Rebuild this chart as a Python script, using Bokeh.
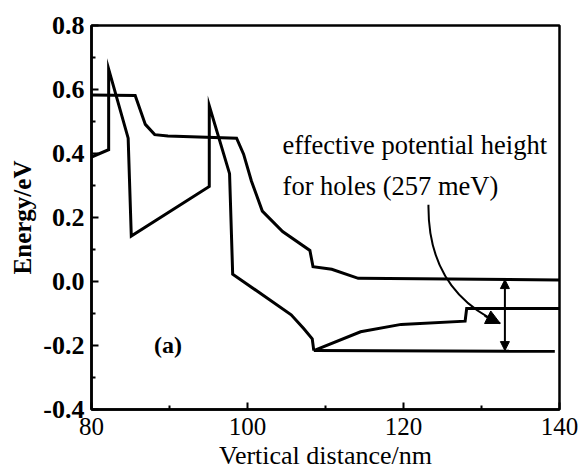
from bokeh.plotting import figure
from bokeh.models import (Range1d, Arrow, NormalHead, Label, FixedTicker,
                          PrintfTickFormatter)
from bokeh.embed import file_html
from bokeh.resources import INLINE

# Band-edge profiles along the vertical direction (distance in nm, energy in eV)
dist_a = [80.0, 82.2, 82.2, 84.7, 85.1, 95.1, 95.1, 97.7, 98.1, 105.6, 107.2, 108.3, 108.5]
energy_a = [0.389, 0.412, 0.664, 0.448, 0.142, 0.297, 0.549, 0.337, 0.023, -0.104, -0.147, -0.179, -0.216]

dist_b = [80.0, 85.6, 86.9, 88.1, 89.8, 98.6, 99.5, 100.5, 101.9, 104.5, 108.0, 108.4, 110.8, 114.2, 140.0]
energy_b = [0.583, 0.581, 0.491, 0.459, 0.455, 0.448, 0.398, 0.314, 0.220, 0.156, 0.097, 0.046, 0.038, 0.010, 0.005]

dist_c = [108.5, 114.5, 119.7, 127.9, 128.1, 140.0]
energy_c = [-0.216, -0.157, -0.134, -0.124, -0.084, -0.084]

dist_d = [108.5, 139.4]
energy_d = [-0.216, -0.218]

# Barrier marker (upper and lower level at the marker position)
barrier_x = 133.0
barrier_top = 0.006
barrier_bottom = -0.216

# Curved pointer from the annotation to the barrier
pointer_start = (123.2, 0.24)
pointer_ctrl0 = (123.1, 0.036)
pointer_ctrl1 = (127.2, -0.073)
pointer_tip = (132.4, -0.131)

x_ticks = [80, 100, 120, 140]
x_minor = [90, 110, 130]
y_ticks = [-0.4, -0.2, 0.0, 0.2, 0.4, 0.6, 0.8]
y_minor = [-0.3, -0.1, 0.1, 0.3, 0.5, 0.7]

SERIF = "Liberation Serif"

p = figure(width=584, height=474, output_backend="svg", toolbar_location=None,
           x_range=Range1d(80, 140), y_range=Range1d(-0.4, 0.8),
           min_border_left=91, min_border_right=25, min_border_top=25,
           min_border_bottom=65)

p.xgrid.visible = False
p.ygrid.visible = False
p.background_fill_color = "white"
p.border_fill_color = "white"
p.outline_line_color = "black"
p.outline_line_width = 2.5

for ax in (p.xaxis[0], p.yaxis[0]):
    ax.axis_line_width = 2.5
    ax.major_tick_in = 7
    ax.major_tick_out = 0
    ax.minor_tick_in = 4
    ax.minor_tick_out = 0
    ax.major_tick_line_width = 2
    ax.minor_tick_line_width = 2
    ax.major_label_text_font = SERIF
    ax.axis_label_text_font = SERIF
    ax.major_label_text_color = "black"
    ax.axis_label_text_color = "black"

p.xaxis.ticker = FixedTicker(ticks=x_ticks, minor_ticks=x_minor)
p.yaxis.ticker = FixedTicker(ticks=y_ticks, minor_ticks=y_minor)
p.yaxis.formatter = PrintfTickFormatter(format="%.1f")

p.xaxis.axis_label = "Vertical distance/nm"
p.xaxis.major_label_text_font_size = "25px"
p.xaxis.axis_label_text_font_size = "26px"
p.xaxis.axis_label_text_font_style = "normal"
p.xaxis.major_label_standoff = 8
p.xaxis.axis_label_standoff = 3

p.yaxis.axis_label = "Energy/eV"
p.yaxis.major_label_text_font_size = "26px"
p.yaxis.major_label_text_font_style = "bold"
p.yaxis.axis_label_text_font_size = "25px"
p.yaxis.axis_label_text_font_style = "bold"
p.yaxis.major_label_standoff = 7
p.yaxis.axis_label_standoff = 4

lw = 3
p.line(dist_a, energy_a, line_color="black", line_width=lw, line_join="miter")
p.line(dist_b, energy_b, line_color="black", line_width=lw, line_join="miter")
p.line(dist_c, energy_c, line_color="black", line_width=lw, line_join="miter")
p.line(dist_d, energy_d, line_color="black", line_width=lw, line_join="miter")

# Double-headed barrier-height marker
p.add_layout(Arrow(
    start=NormalHead(size=9, fill_color="black", line_color="black", line_width=1),
    end=NormalHead(size=9, fill_color="black", line_color="black", line_width=1),
    x_start=barrier_x, y_start=barrier_bottom, x_end=barrier_x, y_end=barrier_top,
    line_color="black", line_width=2))

# Curved pointer with a head at its tip
p.bezier(x0=[pointer_start[0]], y0=[pointer_start[1]],
         x1=[pointer_tip[0]], y1=[pointer_tip[1]],
         cx0=[pointer_ctrl0[0]], cy0=[pointer_ctrl0[1]],
         cx1=[pointer_ctrl1[0]], cy1=[pointer_ctrl1[1]],
         line_color="black", line_width=2)
p.add_layout(Arrow(
    end=NormalHead(size=14, fill_color="black", line_color="black", line_width=1),
    x_start=pointer_tip[0] - 2.0, y_start=pointer_tip[1] + 0.024,
    x_end=pointer_tip[0], y_end=pointer_tip[1],
    line_color="black", line_width=2))

p.add_layout(Label(x=104.5, y=0.428, text="effective potential height",
                   text_font=SERIF, text_font_size="26.5px", text_color="black",
                   text_baseline="middle", text_align="left"))
p.add_layout(Label(x=104.5, y=0.297, text="for holes (257 meV)",
                   text_font=SERIF, text_font_size="26.5px", text_color="black",
                   text_baseline="middle", text_align="left"))
p.add_layout(Label(x=89.8, y=-0.197, text="(a)",
                   text_font=SERIF, text_font_size="24px", text_font_style="bold",
                   text_color="black",
                   text_baseline="middle", text_align="center"))

open("out.html", "w").write(file_html(p, INLINE))
